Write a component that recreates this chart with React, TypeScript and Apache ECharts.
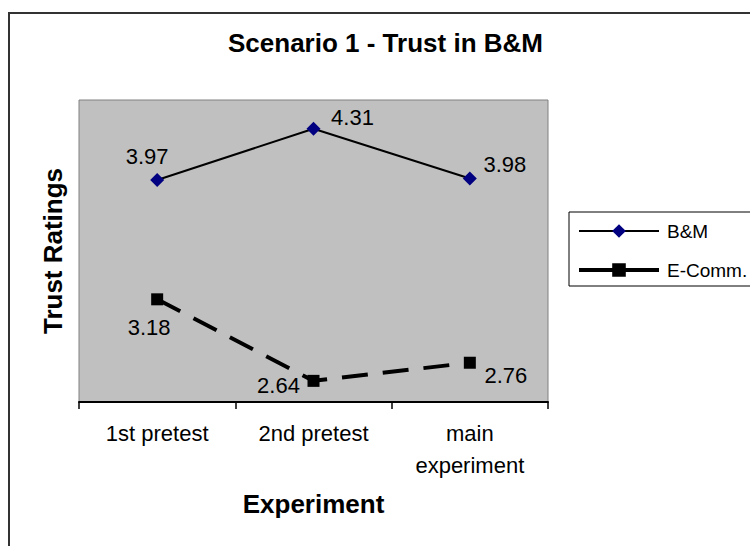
import React, { useEffect, useRef } from "react";
import * as echarts from "echarts";

const categories = ["1st pretest", "2nd pretest", "main\nexperiment"];
const bmValues = [3.97, 4.31, 3.98];
const ecommValues = [3.18, 2.64, 2.76];
const seriesNames = ["B&M", "E-Comm."];

// label offsets (styling) relative to each point
const bmLabelOffsets = [[-10, -24], [39, -11], [35, -14]];
const ecLabelOffsets = [[-8, 28], [-35, 5], [36, 13]];

const FONT = "'Liberation Sans', Arial, Helvetica, sans-serif";

export default function App() {
  const ref = useRef<HTMLDivElement>(null);
  useEffect(() => {
    if (!ref.current) return;
    const chart = echarts.init(ref.current, undefined, { renderer: "svg" });
    const labelBase = {
      show: true,
      position: "inside",
      color: "#000",
      fontSize: 22,
      fontFamily: FONT,
      align: "center",
      verticalAlign: "middle",
      textBorderWidth: 0,
      formatter: (p: any) => p.value.toFixed(2),
    };
    chart.setOption({
      animation: false,
      backgroundColor: "#fff",
      textStyle: { fontFamily: FONT },
      title: {
        text: "Scenario 1 - Trust in B&M",
        left: 228,
        top: 30,
        padding: 0,
        textStyle: { fontSize: 26, fontWeight: "bold", color: "#000", fontFamily: FONT },
      },
      graphic: [
        {
          type: "rect",
          shape: { x: 9, y: 13, width: 800, height: 600 },
          style: { fill: "none", stroke: "#333", lineWidth: 2 },
          silent: true,
          z: 100,
        },
      ],
      legend: {
        orient: "vertical",
        left: 569,
        top: 212,
        padding: [9, 4, 6, 8],
        itemWidth: 80,
        itemHeight: 17,
        itemGap: 19,
        borderColor: "#000",
        borderWidth: 1,
        backgroundColor: "#fff",
        textStyle: { fontSize: 19, color: "#000", fontFamily: FONT, lineHeight: 20, padding: [0, 0, 0, 3] },
        data: [
          { name: seriesNames[0], lineStyle: { width: 2, color: "#000" } },
          { name: seriesNames[1], lineStyle: { width: 4, color: "#000", type: "solid" } },
        ],
      },
      grid: {
        left: 79,
        top: 100,
        width: 469,
        height: 302,
        show: true,
        backgroundColor: "#C0C0C0",
        borderColor: "#808080",
        borderWidth: 1,
      },
      xAxis: {
        type: "category",
        data: categories,
        boundaryGap: true,
        axisLine: { show: true, lineStyle: { color: "#000", width: 2 } },
        axisTick: { show: true, length: 7, lineStyle: { color: "#000", width: 1.5 } },
        axisLabel: { color: "#000", fontSize: 22, fontFamily: FONT, margin: 15, lineHeight: 32 },
        name: "Experiment",
        nameLocation: "middle",
        nameGap: 89,
        nameTextStyle: { fontSize: 26, fontWeight: "bold", color: "#000", fontFamily: FONT },
      },
      yAxis: {
        type: "value",
        min: 2.5,
        max: 4.5,
        axisLine: { show: false },
        axisTick: { show: false },
        axisLabel: { show: false },
        splitLine: { show: false },
        name: "Trust Ratings",
        nameLocation: "middle",
        nameGap: 13,
        nameRotate: 90,
        nameTextStyle: { fontSize: 26, fontWeight: "bold", color: "#000", fontFamily: FONT },
      },
      series: [
        {
          name: seriesNames[0],
          type: "line",
          data: bmValues.map((v, i) => ({
            value: v,
            label: { ...labelBase, offset: bmLabelOffsets[i] },
          })),
          symbol: "diamond",
          symbolSize: 14,
          itemStyle: { color: "#000080" },
          lineStyle: { color: "#000", width: 2 },
          label: labelBase,
        },
        {
          name: seriesNames[1],
          type: "line",
          data: ecommValues.map((v, i) => ({
            value: v,
            label: { ...labelBase, offset: ecLabelOffsets[i] },
          })),
          symbol: "rect",
          symbolSize: 12,
          itemStyle: { color: "#000" },
          lineStyle: { color: "#000", width: 4, type: [26, 15] },
          label: labelBase,
        },
      ],
    });
    return () => chart.dispose();
  }, []);
  return (
    <div
      ref={ref}
      style={{ position: "absolute", left: 0, top: 0, width: 750, height: 546 }}
    />
  );
}
